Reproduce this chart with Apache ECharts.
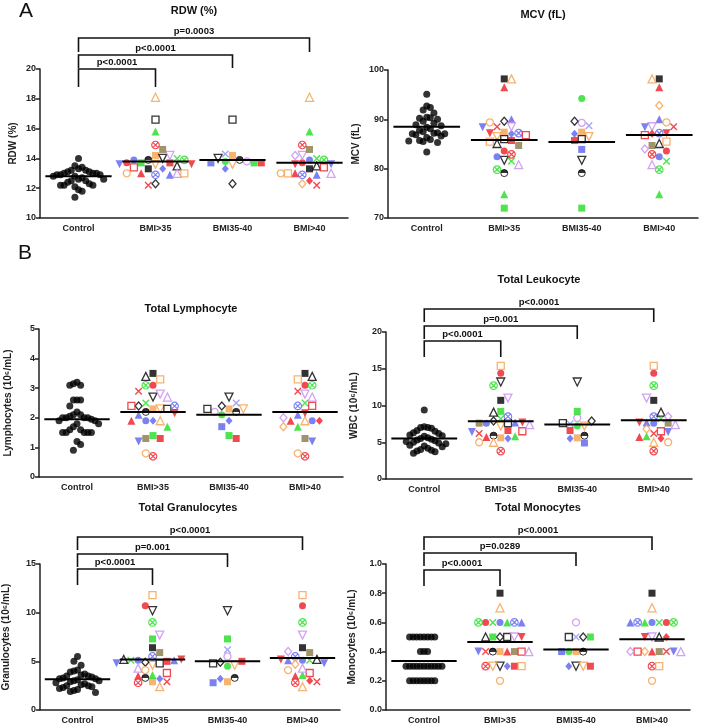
<!DOCTYPE html>
<html><head><meta charset="utf-8">
<script src="https://cdn.jsdelivr.net/npm/echarts@6/dist/echarts.min.js"></script>
<style>html,body{margin:0;padding:0;background:#fff}#c{width:701px;height:725px}</style>
</head><body><div id="c"></div><script>
// ---------------- DATA ----------------
const categories = ['Control', 'BMI>35', 'BMI35-40', 'BMI>40'];
// patient marker identities (colour_shape)
const ids35to40 = ['O_sq','G_cir','K_half','K_odtri','O_odtri','V_ocir','B_x','B_dia','K_odia','K_osq','G_sq','B_sq','R_sq'];
const ids40 = ['K_sq','O_otri','B_cir','G_tri','G_x','B_cx','R_cir','B_tri','G_cx','V_odtri','K_otri','R_dtri','R_dia','R_tri','Y_sq','O_odia','R_x','R_osq','B_dtri','V_odia','V_otri','R_cx','O_osq','O_ocir'];
const ids35 = ['O_sq','K_half','K_odtri','O_odtri','B_dia','K_odia','K_osq','G_sq','R_sq',
  'K_sq','O_otri','B_cir','G_tri','G_x','B_cx','R_cir','B_tri','G_cx','V_odtri','K_otri','R_dtri','R_tri','Y_sq','R_x','R_osq','B_dtri','V_otri','R_cx','O_osq','O_ocir'];

// RDW (%)
const rdwControl = [14.0,13.5,13.4,13.3,13.2,13.2,13.1,13.1,13.0,13.0,13.0,12.9,12.9,12.9,12.8,12.8,12.7,12.6,12.6,12.5,12.5,12.4,12.3,12.2,12.2,12.2,12.1,11.9,11.8,11.4];
const rdw35to40 = [14.2,13.8,13.9,14.0,13.6,13.8,14.3,13.3,12.3,16.6,13.7,13.7,13.7];
const rdw40 = [13.3,18.1,13.9,15.8,14.0,12.9,13.7,12.9,13.9,14.2,13.5,13.6,12.5,13.0,14.6,12.3,12.2,13.4,13.6,14.2,13.0,14.9,13.0,13.0];
const rdwMeans = [12.8,13.8,13.9,13.7];
const rdwP = ['p<0.0001','p<0.0001','p=0.0003'];

// MCV (fL)
const mcvControl = [95.1,92.7,92.4,91.9,91.3,90.4,90.3,90.2,90.0,89.6,89.2,88.9,88.7,88.4,88.1,87.8,87.5,87.3,87.2,87.1,87.1,86.9,86.6,86.3,85.9,85.7,85.6,85.5,85.3,83.4];
const mcv35to40 = [87.4,94.2,79.1,81.7,86.5,89.3,88.7,87.1,89.6,86.0,72.0,83.9,85.7];
const mcv40 = [98.2,98.2,82.4,74.8,81.5,87.2,83.6,90.0,79.8,88.5,85.1,87.2,87.1,96.5,84.7,92.8,88.5,86.8,88.4,84.0,80.8,82.9,85.5,89.4];
const mcvMeans = [88.5,85.8,85.4,86.8];

// Lymphocytes
const lymControl = [3.2,3.15,3.1,3.1,2.6,2.6,2.6,2.4,2.2,2.1,2.1,2.05,2.0,2.0,2.0,2.0,1.95,1.9,1.9,1.8,1.8,1.7,1.6,1.6,1.5,1.5,1.5,1.5,1.5,1.2,1.1,0.9];
const lym35to40 = [2.3,2.1,2.2,2.7,2.3,2.2,2.5,1.9,2.4,2.3,1.4,1.7,1.3];
const lym40 = [3.5,1.9,1.9,1.7,2.5,2.4,3.1,2.1,3.1,2.8,3.4,2.15,1.9,1.9,1.3,1.7,2.9,2.4,1.2,2.0,2.7,0.7,3.3,0.8];
const lymMeans = [1.95,2.2,2.1,2.2];

// WBC
const wbcControl = [9.4,7.1,7.0,7.0,6.9,6.6,6.5,6.3,6.2,6.0,5.9,5.8,5.6,5.5,5.4,5.3,5.2,5.1,5.0,4.9,4.8,4.6,4.5,4.4,4.2,4.0,3.9,3.8,3.7,3.5];
const wbc35to40 = [5.6,7.2,5.9,13.2,7.2,8.3,7.5,5.5,7.9,7.6,9.2,4.9,6.6];
const wbc40 = [10.7,5.0,7.6,5.8,8.2,8.5,14.4,7.7,12.7,11.0,9.1,7.7,5.5,5.7,7.6,6.8,6.2,6.5,6.4,8.5,7.4,3.8,15.4,5.0];
const wbcMeans = [5.5,7.85,7.4,8.0];
const wbcP = ['p<0.0001','p=0.001','p<0.0001'];

// Granulocytes
const graControl = [5.5,5.0,4.6,4.1,4.0,3.9,3.7,3.6,3.5,3.5,3.4,3.3,3.2,3.2,3.1,3.0,3.0,2.9,2.8,2.7,2.6,2.5,2.5,2.4,2.3,2.2,2.1,2.0,1.9,1.8];
const gra35to40 = [2.9,4.5,3.3,10.2,4.6,5.5,6.2,3.2,4.9,4.8,7.3,2.8,5.0];
const gra40 = [6.4,2.4,5.1,3.6,5.1,5.5,10.7,5.1,9.0,7.7,5.2,5.2,3.0,3.5,5.9,4.7,2.9,3.8,4.8,6.0,4.3,2.8,11.8,4.1];
const graMeans = [3.15,5.2,5.0,5.35];
const graP = ['p<0.0001','p=0.001','p<0.0001'];

// Monocytes
const monControl = [0.5,0.5,0.5,0.5,0.5,0.5,0.5,0.5,0.4,0.4,0.4,0.3,0.3,0.3,0.3,0.3,0.3,0.3,0.3,0.3,0.3,0.3,0.2,0.2,0.2,0.2,0.2,0.2,0.2,0.2];
const mon35to40 = [0.4,0.4,0.4,0.3,0.3,0.6,0.5,0.3,0.5,0.5,0.5,0.4,0.3];
const mon40 = [0.8,0.7,0.6,0.6,0.6,0.6,0.6,0.6,0.6,0.5,0.5,0.5,0.5,0.4,0.4,0.4,0.4,0.4,0.4,0.4,0.4,0.3,0.3,0.2];
const monMeans = [0.335,0.465,0.415,0.485];
const monP = ['p<0.0001','p=0.0289','p<0.0001'];

// ---------------- STYLE / LAYOUT ----------------
const FONT = '"Liberation Sans", Arial, sans-serif';
const COLORS = {K:'#000000', R:'#ec1c24', G:'#22dd22', B:'#5b61ee', O:'#f5a04c', V:'#c68cf0', Y:'#8a7845'};
const PATH_X = 'path://M0,0L10,10M10,0L0,10';
const PATH_CX = 'path://M10,0A10,10,0,1,1,9.99,0ZM3,3L17,17M17,3L3,17';

function markStyle(id){
  const [c, shape] = id.split('_');
  const col = (id === 'B_x') ? '#8d90f0' : COLORS[c];
  const open = {color:'#ffffff', borderColor:col, borderWidth:1.3};
  const fill = {color:col};
  switch(shape){
    case 'sq': return {symbol:'rect', symbolSize:7, itemStyle:fill};
    case 'osq': return {symbol:'rect', symbolSize:7, itemStyle:open};
    case 'cir': return {symbol:'circle', symbolSize:7, itemStyle:fill};
    case 'ocir': return {symbol:'circle', symbolSize:7, itemStyle:open};
    case 'tri': return {symbol:'triangle', symbolSize:8, itemStyle:fill};
    case 'otri': return {symbol:'triangle', symbolSize:8, itemStyle:open};
    case 'dtri': return {symbol:'triangle', symbolSize:8, symbolRotate:180, itemStyle:fill};
    case 'odtri': return {symbol:'triangle', symbolSize:8, symbolRotate:180, itemStyle:open};
    case 'dia': return {symbol:'diamond', symbolSize:[7,8], itemStyle:fill};
    case 'odia': return {symbol:'diamond', symbolSize:[7,8], itemStyle:open};
    case 'x': return {symbol:PATH_X, symbolSize:6.5, itemStyle:{color:'rgba(0,0,0,0)', borderColor:col, borderWidth:1.4}};
    case 'cx': return {symbol:PATH_CX, symbolSize:7.5, itemStyle:{color:'#ffffff', borderColor:col, borderWidth:1.2}};
    case 'half': return {symbol:'circle', symbolSize:7, itemStyle:{
      color:{type:'linear', x:0, y:0, x2:0, y2:1, colorStops:[{offset:0,color:'#000'},{offset:0.5,color:'#000'},{offset:0.5,color:'#fff'},{offset:1,color:'#fff'}]},
      borderColor:'#000', borderWidth:1}};
  }
}

// horizontal spread of points (scatter dot plot layout), alternating preferred side
function swarm(values, ppu, stepX, minDy){
  const placed = [], out = [];
  values.forEach((v, k) => {
    const y = v * ppu;
    const side = (k % 2) ? -1 : 1;
    let dx = 0;
    for (let i = 0; i < 400; i++){
      const cand = i === 0 ? 0 : (i % 2 ? side : -side) * Math.ceil(i / 2) * stepX;
      const ok = placed.every(p => Math.abs(p.y - y) >= minDy || Math.abs(p.x - cand) >= stepX - 0.01);
      if (ok){ dx = cand; break; }
    }
    placed.push({x:dx, y:y}); out.push(dx);
  });
  return out;
}

const panels = [
  {name:'RDW (%)', title:'RDW (%)', tx:194, ty:11, left:40, top:69, width:308, height:149, min:10, max:20, interval:2, nameGap:22,
   control:rdwControl, g3:rdw35to40, g4:rdw40, means:rdwMeans, p:rdwP, bar:[0,-14,-31], leg:[18,13,14]},
  {name:'MCV (fL)', title:'MCV (fL)', tx:543, ty:15, left:388, top:70, width:310, height:148, min:70, max:100, interval:10, nameGap:27,
   control:mcvControl, g3:mcv35to40, g4:mcv40, means:mcvMeans, p:null},
  {name:'Lymphocytes (10⁶/mL)', title:'Total Lymphocyte', tx:191, ty:309, left:39, top:329, width:304, height:148, min:0, max:5, interval:1, nameGap:26,
   control:lymControl, g3:lym35to40, g4:lym40, means:lymMeans, p:null},
  {name:'WBC (10⁶/mL)', title:'Total Leukocyte', tx:539, ty:280, left:386, top:332, width:306, height:147, min:0, max:20, interval:5, nameGap:27,
   control:wbcControl, g3:wbc35to40, g4:wbc40, means:wbcMeans, p:wbcP, bar:[9,-6,-23], leg:[16,13,13]},
  {name:'Granulocytes (10⁶/mL)', title:'Total Granulocytes', tx:188, ty:508, left:36, top:564, width:304, height:147, min:0, max:15, interval:5, nameGap:29,
   control:graControl, g3:gra35to40, g4:gra40, means:graMeans, p:graP, bar:[5,-10,-27], leg:[16,13,13]},
  {name:'Monocytes (10⁶/mL)', title:'Total Monocytes', tx:538, ty:508, left:386, top:564, width:304, height:147, min:0, max:1, interval:0.2, nameGap:29,
   control:monControl, g3:mon35to40, g4:mon40, means:monMeans, p:monP, bar:[6,-11,-27], leg:[16,13,13], dec:1}
];

const grid = [], xAxis = [], yAxis = [], series = [], graphic = [];
const axisLineStyle = {color:'#222', width:1.5};

panels.forEach((P, i) => {
  grid.push({left:P.left, top:P.top, width:P.width, height:P.height});
  xAxis.push({type:'category', gridIndex:i, data:categories,
    axisLine:{lineStyle:axisLineStyle}, axisTick:{show:false},
    axisLabel:{fontFamily:FONT, fontWeight:'bold', fontSize:9, color:'#222', margin:6, interval:0}});
  yAxis.push({type:'value', gridIndex:i, min:P.min, max:P.max, interval:P.interval,
    name:P.name, nameLocation:'middle', nameGap:P.nameGap, nameRotate:90,
    nameTextStyle:{fontFamily:FONT, fontWeight:'bold', fontSize:10, color:'#222'},
    axisLine:{show:true, lineStyle:axisLineStyle}, axisTick:{show:true, length:4, lineStyle:axisLineStyle},
    splitLine:{show:false},
    axisLabel:{fontFamily:FONT, fontWeight:'bold', fontSize:9, color:'#222', margin:4,
      formatter: v => P.dec ? v.toFixed(P.dec) : String(v)}});

  const ppu = P.height / (P.max - P.min);
  const lookup = {};
  ids35to40.forEach((id, k) => lookup[id] = P.g3[k]);
  ids40.forEach((id, k) => lookup[id] = P.g4[k]);
  const g35 = ids35.map(id => lookup[id]);

  const cOff = swarm(P.control, ppu, 3.6, 9.5);
  series.push({type:'scatter', xAxisIndex:i, yAxisIndex:i, symbol:'circle', symbolSize:7,
    itemStyle:{color:'#000'}, silent:true, z:2,
    data: P.control.map((v, k) => ({value:[0, v], symbolOffset:[cOff[k], 0]}))});

  [[1, ids35, g35], [2, ids35to40, P.g3], [3, ids40, P.g4]].forEach(([ci, ids, vals]) => {
    const off = swarm(vals, ppu, 7.2, 6.5);
    series.push({type:'scatter', xAxisIndex:i, yAxisIndex:i, silent:true, z:2,
      data: ids.map((id, k) => Object.assign({value:[ci, vals[k]], symbolOffset:[off[k], 0]}, markStyle(id)))});
  });

  const band = P.width / categories.length;
  series.push({type:'custom', xAxisIndex:i, yAxisIndex:i, silent:true, z:4, clip:false,
    data: P.means.map((m, j) => [j, m]),
    renderItem: (params, api) => {
      const pt = api.coord([api.value(0), api.value(1)]);
      const w = band * 0.86;
      return {type:'line', shape:{x1:pt[0] - w / 2, y1:pt[1], x2:pt[0] + w / 2, y2:pt[1]}, style:{stroke:'#000', lineWidth:2}};
    }});

  if (P.p){
    series.push({type:'custom', xAxisIndex:i, yAxisIndex:i, silent:true, z:4, clip:false,
      data: P.p.map((lab, j) => [0, j + 1, j]),
      renderItem: (params, api) => {
        const xa = api.coord([api.value(0), P.min])[0];
        const xb = api.coord([api.value(1), P.min])[0];
        const lvl = api.value(2);
        const yb = P.top + P.bar[lvl];
        const lg = P.leg[lvl];
        return {type:'group', children:[
          {type:'polyline', shape:{points:[[xa, yb + lg], [xa, yb], [xb, yb], [xb, yb + lg]]}, style:{stroke:'#111', lineWidth:1.6, fill:'none'}},
          {type:'text', x:(xa + xb) / 2, y:yb - 2, style:{text:P.p[params.dataIndex], font:'bold 9.5px ' + FONT, fill:'#111', align:'center', verticalAlign:'bottom'}}
        ]};
      }});
  }

  graphic.push({type:'text', x:P.tx, y:P.ty, style:{text:P.title, font:'bold 11px ' + FONT, fill:'#111', align:'center', verticalAlign:'middle'}});
});

graphic.push({type:'text', x:26, y:11, style:{text:'A', font:'21px ' + FONT, fill:'#111', align:'center', verticalAlign:'middle'}});
graphic.push({type:'text', x:25, y:253, style:{text:'B', font:'21px ' + FONT, fill:'#111', align:'center', verticalAlign:'middle'}});

const chart = echarts.init(document.getElementById('c'), null, {renderer:'canvas'});
chart.setOption({animation:false, backgroundColor:'#fff', grid, xAxis, yAxis, series, graphic});
</script></body></html>
